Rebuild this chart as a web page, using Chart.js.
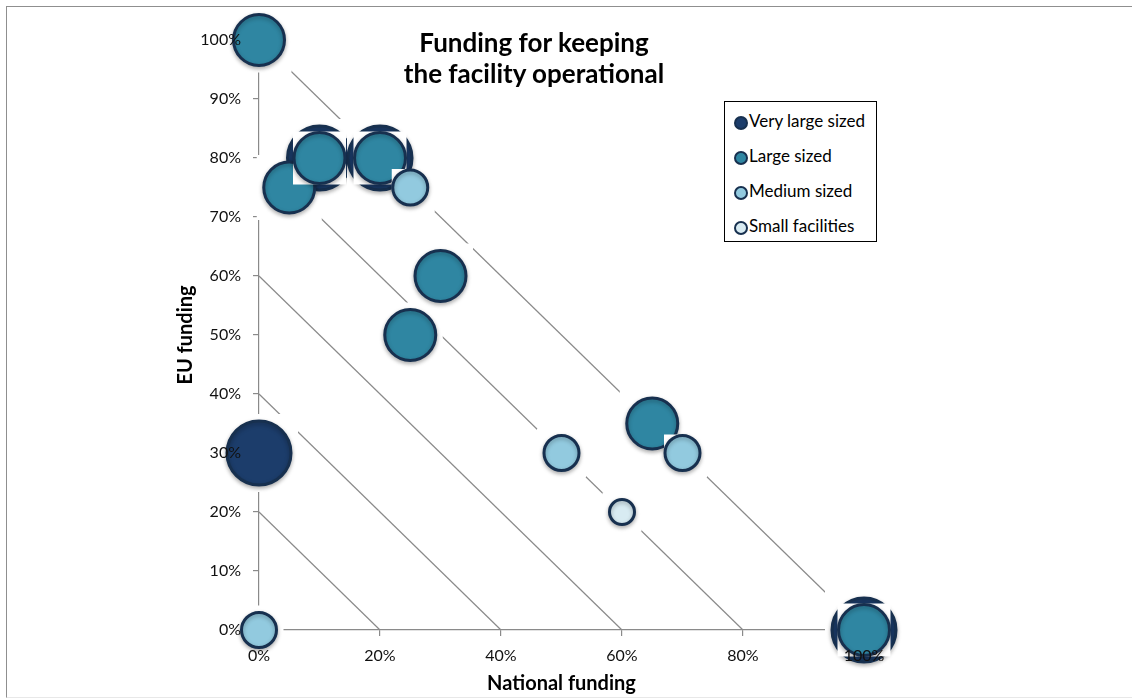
<!DOCTYPE html>
<html>
<head>
<meta charset="utf-8">
<title>Funding for keeping the facility operational</title>
<script src="https://cdn.jsdelivr.net/npm/chart.js"></script>
<style>
  html, body { margin: 0; padding: 0; background: #fff; overflow: hidden; }
  #wrap { position: relative; width: 1132px; height: 698px; font-family: Lato, "Open Sans", sans-serif; }
  #frame { position: absolute; left: 6px; top: 6px; width: 1200px; height: 690px;
           border-left: 1px solid #8f8f8f; border-top: 1px solid #8f8f8f; border-bottom: 1px solid #e8e8e8; }
  canvas { position: absolute; left: 0; top: 0; }
  #title { position: absolute; left: 334px; width: 400px; top: 27px; text-align: center;
           font-weight: bold; font-size: 26px; line-height: 31px; color: #000; }
  #legend { position: absolute; left: 724px; top: 101px; width: 153px; height: 141px;
            border: 1px solid #000; background: #fff; box-sizing: border-box; padding-top: 9px; }
  .item { position: relative; height: 35px; font-size: 17px; color: #000; }
  .dot { position: absolute; left: 9px; top: 5px; width: 10px; height: 10px; border-radius: 50%;
         border: 2.5px solid #17304f; }
  .lbl { position: absolute; left: 24px; top: -1px; white-space: nowrap; }
</style>
</head>
<body>
<div id="wrap">
  <div id="frame"></div>
  <canvas id="chart" width="1132" height="698"></canvas>
  <div id="title">Funding for keeping<br>the facility operational</div>
  <div id="legend"></div>
</div>
<script>
// Size classes shown in the legend
const categories = ['Very large sized', 'Large sized', 'Medium sized', 'Small facilities'];

// National share (x) and EU share (y) of operating funding, in percent, per size class
const nationalVeryLarge = [0, 10, 20, 100];
const euVeryLarge       = [30, 80, 80, 0];

const nationalLarge = [0, 5, 10, 20, 30, 25, 65, 100];
const euLarge       = [100, 75, 80, 80, 60, 50, 35, 0];

const nationalMedium = [25, 50, 70, 0];
const euMedium       = [75, 30, 30, 0];

const nationalSmall = [60];
const euSmall       = [20];

// Reference lines where national + EU share adds up to a constant total
const diagonalTotals = [20, 40, 60, 80, 100];

// Axis ticks
const xTickStep = 20;
const yTickStep = 10;

// Styling per size class
const fills   = ['#1c3d6b', '#2f86a2', '#92cadf', '#d8ebf2'];
const radii   = [32, 25.5, 17.5, 12.5];
const outline = '#17304f';
const FONT = 'Lato, "Open Sans", sans-serif';

// Bubble controller that paints a white backing square behind every bubble,
// bubble by bubble, so later bubbles mask lines and earlier bubbles around them.
class HaloBubbleController extends Chart.BubbleController {
  draw() {
    const ctx = this.chart.ctx;
    const ds = this.getDataset();
    const pad = ds.haloPad || 0;
    const area = this.chart.chartArea;
    for (const el of this._cachedMeta.data) {
      if (el.skip) continue;
      const h = el.options.radius + pad;
      ctx.save();
      ctx.fillStyle = '#ffffff';
      ctx.fillRect(el.x - h, el.y - h, 2 * h, 2 * h);
      ctx.restore();
      if (!ds.haloOnly) {
        ctx.save();
        ctx.shadowColor = 'rgba(0,0,0,0.28)';
        ctx.shadowBlur = 4;
        ctx.shadowOffsetY = 2;
        el.draw(ctx, area);
        ctx.restore();
      }
    }
  }
}
HaloBubbleController.id = 'haloBubble';
HaloBubbleController.defaults = Chart.BubbleController.defaults;
HaloBubbleController.overrides = Chart.BubbleController.overrides;
Chart.register(HaloBubbleController);

function points(xs, ys, r) {
  return xs.map((x, i) => ({ x: x, y: ys[i], r: r }));
}

const series = [
  points(nationalVeryLarge, euVeryLarge, radii[0]),
  points(nationalLarge, euLarge, radii[1]),
  points(nationalMedium, euMedium, radii[2]),
  points(nationalSmall, euSmall, radii[3])
];

const bubbleSets = series.map((data, i) => ({
  type: 'haloBubble',
  label: categories[i],
  data: data,
  backgroundColor: fills[i],
  borderColor: outline,
  borderWidth: 3,
  haloPad: 1,
  clip: false,
  order: 10 - i
}));

// White glow around every bubble that interrupts the reference lines and axes
const glowSet = {
  type: 'haloBubble',
  label: 'glow',
  data: [].concat(...series),
  backgroundColor: '#ffffff',
  borderWidth: 0,
  haloOnly: true,
  haloPad: 7,
  clip: false,
  order: 50
};

const lineSets = diagonalTotals.map(t => ({
  type: 'line',
  label: 'total ' + t,
  data: [{ x: 0, y: t }, { x: t, y: 0 }],
  borderColor: '#8a8a8a',
  borderWidth: 1.2,
  pointRadius: 0,
  fill: false,
  clip: false,
  order: 100
}));

new Chart(document.getElementById('chart'), {
  type: 'haloBubble',
  data: { datasets: [...bubbleSets, glowSet, ...lineSets] },
  options: {
    responsive: false,
    animation: false,
    events: [],
    layout: { padding: { left: 170, top: 40, right: 268, bottom: 0 } },
    plugins: { legend: { display: false }, tooltip: { enabled: false }, title: { display: false } },
    scales: {
      x: {
        type: 'linear', min: 0, max: 100,
        afterFit: s => { s.height = 68; },
        ticks: { stepSize: xTickStep, padding: 10, z: 1, color: '#111',
                 font: { family: FONT, size: 16 }, callback: v => v + '%' },
        grid: { drawOnChartArea: false, drawTicks: true, tickLength: 6, color: '#8a8a8a', lineWidth: 1.2 },
        border: { display: true, color: '#8a8a8a', width: 1.2 },
        title: { display: true, text: 'National funding', color: '#000',
                 font: { family: FONT, size: 20, weight: 'bold' }, padding: { top: 0, bottom: 2 } }
      },
      y: {
        type: 'linear', min: 0, max: 100,
        afterFit: s => { s.width = 89; },
        ticks: { stepSize: yTickStep, padding: 12, z: 1, color: '#111',
                 font: { family: FONT, size: 16 }, callback: v => v + '%' },
        grid: { drawOnChartArea: false, drawTicks: true, tickLength: 6, color: '#8a8a8a', lineWidth: 1.2 },
        border: { display: true, color: '#8a8a8a', width: 1.2 },
        title: { display: true, text: 'EU funding', color: '#000',
                 font: { family: FONT, size: 20, weight: 'bold' }, padding: { top: 4, bottom: 0 } }
      }
    }
  }
});

// Legend box
const legend = document.getElementById('legend');
categories.forEach((name, i) => {
  const item = document.createElement('div');
  item.className = 'item';
  const dot = document.createElement('span');
  dot.className = 'dot';
  dot.style.background = fills[i];
  const lbl = document.createElement('span');
  lbl.className = 'lbl';
  lbl.textContent = name;
  item.appendChild(dot);
  item.appendChild(lbl);
  legend.appendChild(item);
});
</script>
</body>
</html>
